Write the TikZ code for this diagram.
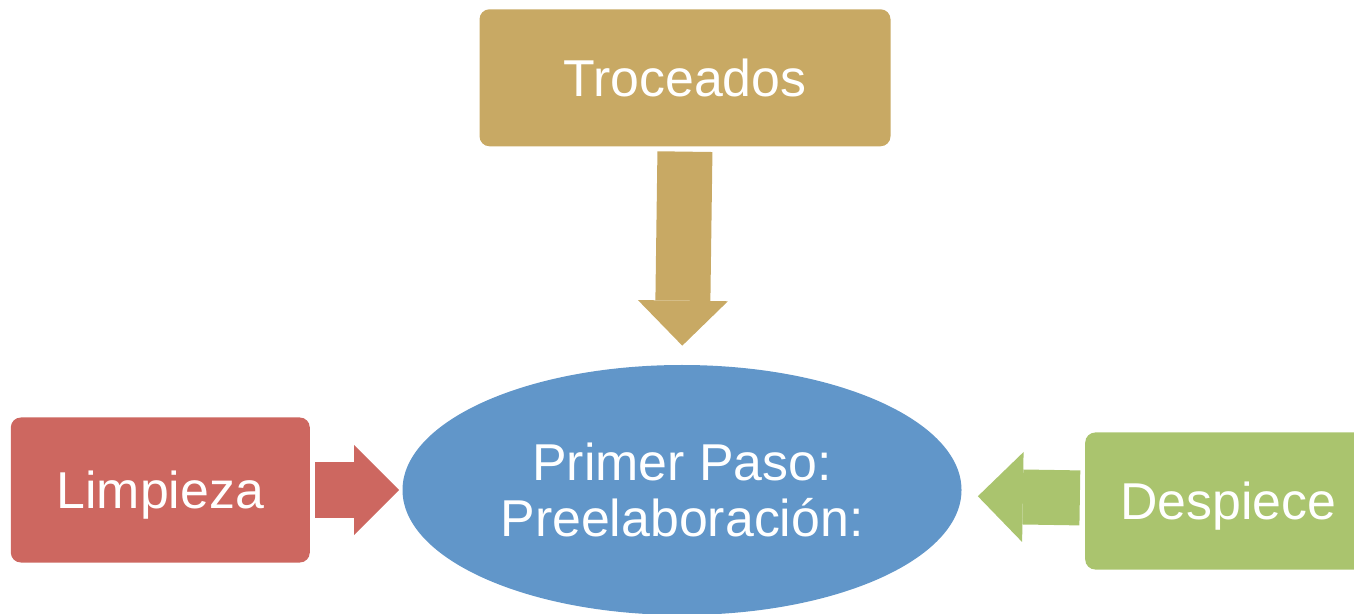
\documentclass[tikz,border=0pt]{standalone}
\usepackage{fontspec}
\setmainfont{Liberation Sans}
\usepackage{xcolor}
\usepackage{tikz}
\usetikzlibrary{arrows.meta,positioning,shapes.geometric}
\definecolor{trocgold}{HTML}{C8A964}
\definecolor{limpred}{HTML}{CD6760}
\definecolor{elliblue}{HTML}{6196C9}
\definecolor{despgreen}{HTML}{AAC46E}
\tikzset{
  prbox/.style={rounded corners=0.2cm, inner sep=0pt, align=center, text=white,
    font=\fontsize{29.5}{31.8}\selectfont, text height=21.1pt, text depth=0pt},
  prellipse/.style={ellipse, inner sep=0pt, align=center, text=white, fill=elliblue,
    minimum width=11.18cm, minimum height=5cm, font=\fontsize{29.5}{31.8}\selectfont},
  prarrow/.style={draw=#1, line width=1.1cm,
    -{Triangle[length=0.9cm, width=1.8cm, line width=0pt]}}
}
\begin{document}
\begin{tikzpicture}
  \useasboundingbox (0,0) rectangle (27.08,-12.28);
  \node[prellipse] (elli) at (13.64,-9.80) {Primer Paso:\\Preelaboración:};
  \node[prbox, fill=trocgold, minimum width=8.22cm, minimum height=2.74cm,
    above=4.36cm of elli, xshift=0.06cm] (troc) {Troceados};
  \node[prbox, fill=limpred, minimum width=5.98cm, minimum height=2.9cm,
    left=1.84cm of elli] (limp) {Limpieza};
  \node[prbox, fill=despgreen, minimum width=5.72cm, minimum height=2.74cm,
    right=2.46cm of elli, yshift=-0.22cm] (desp) {Despiece};
  \draw[prarrow=trocgold, shorten <=0.1cm, shorten >=0.38cm] (troc.south) -- (elli.north);
  \draw[prarrow=limpred, shorten <=0.1cm, shorten >=0.06cm] (limp.east) -- (elli.west);
  \draw[prarrow=despgreen, shorten <=0.1cm, shorten >=0.32cm]
    ([yshift=0.06cm]desp.west) -- ([yshift=-0.12cm]elli.east);
\end{tikzpicture}
\end{document}
